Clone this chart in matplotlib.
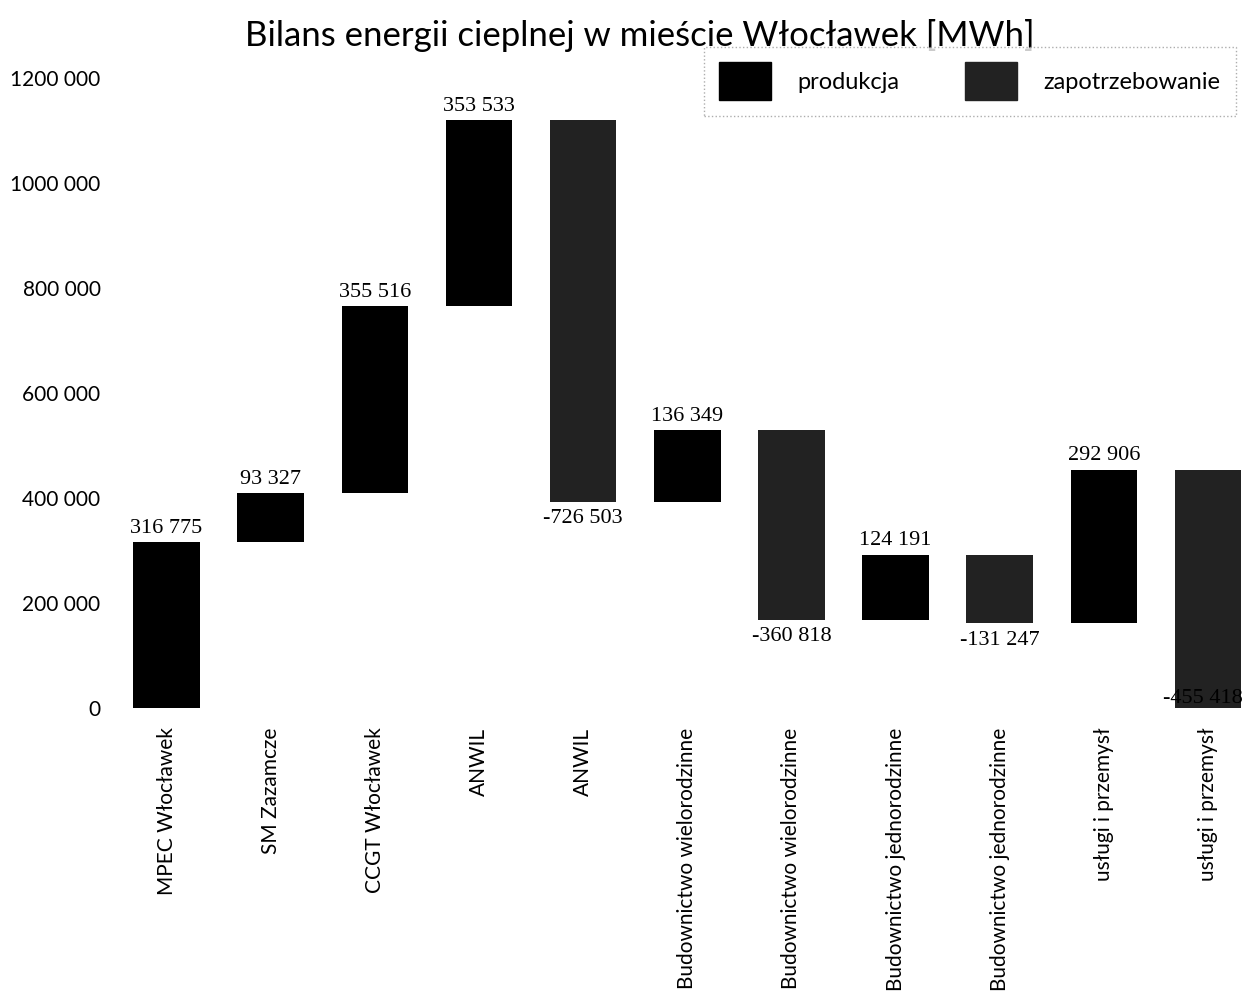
import numpy as np
import matplotlib.pyplot as plt
from matplotlib.patches import Patch

categories = ['MPEC Włocławek', 'SM Zazamcze', 'CCGT Włocławek', 'ANWIL', 'ANWIL',
              'Budownictwo wielorodzinne', 'Budownictwo wielorodzinne',
              'Budownictwo jednorodzinne', 'Budownictwo jednorodzinne',
              'usługi i przemysł', 'usługi i przemysł']
values = [316775, 93327, 355516, 353533, -726503, 136349, -360818,
          124191, -131247, 292906, -455418]
labels = ['316 775', '93 327', '355 516', '353 533', '-726 503', '136 349',
          '-360 818', '124 191', '-131 247', '292 906', '-455 418']
yticks = [0, 200000, 400000, 600000, 800000, 1000000, 1200000]
ytick_labels = ['0', '200 000', '400 000', '600 000', '800 000', '1000 000', '1200 000']

c_prod = '#000000'
c_zap = '#222222'

fig = plt.figure(figsize=(12.44, 10.08), dpi=100)
ax = fig.add_axes([0.092, 0.2976, 0.921, 0.625])

vals = np.array(values)
ends = np.cumsum(vals)
starts = ends - vals
x = np.arange(len(vals))
bottoms = np.minimum(starts, ends)
heights = np.abs(vals)
colors = [c_prod if v > 0 else c_zap for v in vals]
ax.bar(x, heights, bottom=bottoms, width=0.64, color=colors)

for i, v in enumerate(vals):
    if v > 0:
        ax.text(x[i], ends[i] + 8000, labels[i], ha='center', va='bottom',
                fontsize=16, family='Liberation Serif')
    elif i == len(vals) - 1:
        # last one sits at the edge, push it inside
        ax.text(x[i] + 0.33, 36000, labels[i], ha='right', va='top',
                fontsize=16, family='Liberation Serif', clip_on=False)
    else:
        ax.text(x[i], ends[i] - 14000, labels[i], ha='center', va='top',
                fontsize=16, family='Liberation Serif', clip_on=False)

ax.set_xlim(-0.5, len(vals) - 0.5)
ax.set_ylim(0, 1200000)
ax.set_yticks(yticks)
ax.set_yticklabels(ytick_labels, fontsize=15, family='Lato')
ax.set_xticks(x)
ax.set_xticklabels(categories, rotation=90, fontsize=15, family='Lato')
ax.tick_params(length=0, pad=10)
ax.tick_params(axis='x', pad=14)
for s in ax.spines.values():
    s.set_visible(False)

fig.text(0.514, 0.965, 'Bilans energii cieplnej w mieście Włocławek [MWh]',
         ha='center', va='center', fontsize=25, family='Lato')

handles = [Patch(color=c_prod, label='produkcja'),
           Patch(color=c_zap, label='zapotrzebowanie')]
leg = fig.legend(handles=handles, loc='upper right', bbox_to_anchor=(0.997, 0.958),
                 ncol=2, frameon=True, handlelength=2.2, handleheight=2.1,
                 columnspacing=2.8, handletextpad=1.1, borderpad=0.35,
                 prop={'family': 'Lato', 'size': 17})
leg.get_frame().set_linestyle(':')
leg.get_frame().set_edgecolor('#999999')
leg.get_frame().set_boxstyle('square')

fig.savefig('out.png', dpi=100)
